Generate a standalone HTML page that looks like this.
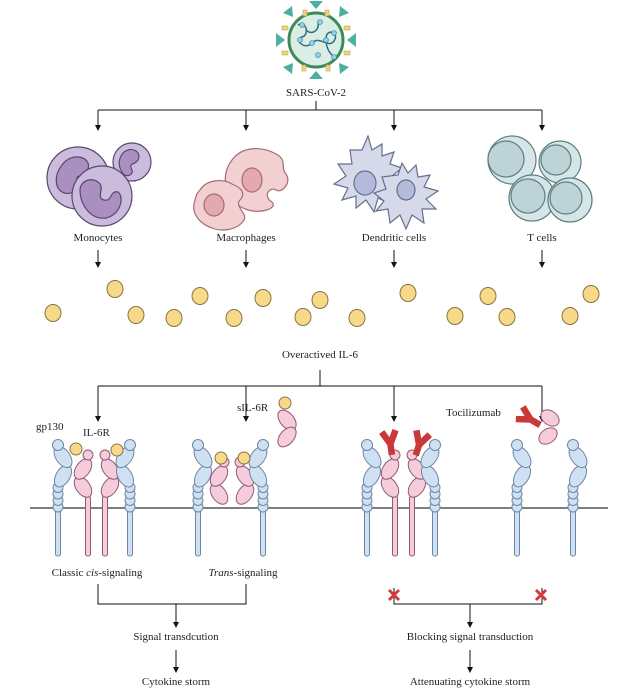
<!DOCTYPE html>
<html><head><meta charset="utf-8"><style>
html,body{margin:0;padding:0;background:#fff;}
svg{display:block;}
text{font-family:"Liberation Serif",serif;font-size:11px;fill:#222;}
</style></head><body>
<svg width="639" height="696" viewBox="0 0 639 696" xmlns="http://www.w3.org/2000/svg">
<defs>
<marker id="ah" markerWidth="6" markerHeight="6" refX="5" refY="3" orient="auto" markerUnits="userSpaceOnUse"><path d="M0,0 L6,3 L0,6 z" fill="#111"/></marker>
<g id="gp">
 <rect x="-2.5" y="2" width="5" height="46" rx="2" fill="#cfe0f3" stroke="#6d86a3" stroke-width="1"/>
 <circle cx="0" cy="-1" r="5" fill="#cfe0f3" stroke="#6d86a3"/>
 <circle cx="0" cy="-7.5" r="5" fill="#cfe0f3" stroke="#6d86a3"/>
 <circle cx="0" cy="-14" r="5" fill="#cfe0f3" stroke="#6d86a3"/>
 <circle cx="0" cy="-20.5" r="5" fill="#cfe0f3" stroke="#6d86a3"/>
 <ellipse cx="5" cy="-32" rx="7" ry="12" transform="rotate(30 5 -32)" fill="#cfe0f3" stroke="#6d86a3"/>
 <ellipse cx="5" cy="-51" rx="7" ry="12" transform="rotate(-35 5 -51)" fill="#cfe0f3" stroke="#6d86a3"/>
 <circle cx="0" cy="-63" r="5.5" fill="#cfe0f3" stroke="#6d86a3"/>
</g>
<g id="r6">
 <ellipse cx="-5" cy="-21" rx="7" ry="11.5" transform="rotate(-35 -5 -21)" fill="#f6cbdc" stroke="#8f5b70"/>
 <ellipse cx="-5" cy="-39" rx="7" ry="11.5" transform="rotate(35 -5 -39)" fill="#f6cbdc" stroke="#8f5b70"/>
 <circle cx="0" cy="-53" r="5" fill="#f6cbdc" stroke="#8f5b70"/>
</g>
<g id="r6s">
 <rect x="-2.5" y="-12" width="5" height="60" rx="2" fill="#f6cbdc" stroke="#8f5b70"/>
 <use href="#r6"/>
</g>
<g id="ab">
 <path d="M0,14 L0,1 M0,3 L-7,-10 M0,3 L7,-10" stroke="#c9393a" stroke-width="6.5" fill="none" stroke-linejoin="round"/>
</g>
<g id="x"><path d="M-5,-5 L5,5 M5,-5 L-5,5" stroke="#d23c3c" stroke-width="3"/></g>
</defs>

<!-- virus -->
<circle cx="316" cy="40" r="27" fill="#dbeee6" stroke="#3f8a5a" stroke-width="3"/>
<g fill="#4ab0a0">
 <polygon points="316,9 309,1 323,1"/>
 <polygon points="339,17 340,6 349,13"/>
 <polygon points="347,40 356,33 356,47"/>
 <polygon points="339,63 349,67 340,74"/>
 <polygon points="316,71 309,79 323,79"/>
 <polygon points="293,63 292,74 283,67"/>
 <polygon points="285,40 276,33 276,47"/>
 <polygon points="293,17 283,13 292,6"/>
</g>
<g fill="#efd27a" stroke="#b89a40" stroke-width="0.5">
 <rect x="325" y="10" width="4" height="6"/><rect x="344" y="26" width="6" height="4"/><rect x="344" y="51" width="6" height="4"/>
 <rect x="326" y="65" width="4" height="6"/><rect x="302" y="65" width="4" height="6"/><rect x="282" y="51" width="6" height="4"/>
 <rect x="282" y="26" width="6" height="4"/><rect x="303" y="10" width="4" height="6"/>
</g>
<path d="M298,25 c8,-5 12,10 4,12 c-8,2 2,14 10,6 c8,-8 16,6 22,-2 c6,-8 -8,-14 -8,-2 c0,12 6,16 10,20 M306,30 c6,6 14,0 12,-8" fill="none" stroke="#2f6f78" stroke-width="1.5"/>
<g fill="#8fd0e8" stroke="#3a7f98" stroke-width="0.6">
 <circle cx="302" cy="25" r="2.5"/><circle cx="312" cy="43" r="2.5"/><circle cx="326" cy="40" r="2.5"/><circle cx="334" cy="33" r="2.5"/><circle cx="320" cy="22" r="2.5"/><circle cx="334" cy="57" r="2.5"/><circle cx="300" cy="40" r="2.5"/><circle cx="318" cy="55" r="2.5"/>
</g>
<text x="316" y="96" text-anchor="middle">SARS-CoV-2</text>

<!-- top tree -->
<g stroke="#111" stroke-width="1" fill="none">
 <line x1="316" y1="101" x2="316" y2="110"/>
 <line x1="98" y1="110" x2="542" y2="110"/>
 <line x1="98" y1="110" x2="98" y2="130" marker-end="url(#ah)"/>
 <line x1="246" y1="110" x2="246" y2="130" marker-end="url(#ah)"/>
 <line x1="394" y1="110" x2="394" y2="130" marker-end="url(#ah)"/>
 <line x1="542" y1="110" x2="542" y2="130" marker-end="url(#ah)"/>
</g>

<!-- monocytes -->
<g stroke="#5a4670" stroke-width="1.2">
 <circle cx="78" cy="178" r="31" fill="#cbbcdc"/>
 <path d="M62,165 c10,-14 30,-8 26,4 c-4,10 -14,4 -10,12 c4,8 -6,14 -14,12 c-10,-4 -10,-18 -2,-28z" fill="#a990c0"/>
 <circle cx="132" cy="162" r="19" fill="#cbbcdc"/>
 <path d="M124,152 c8,-6 18,0 14,8 c-4,6 -10,2 -6,10 c2,6 -8,8 -10,2 c-4,-6 -4,-14 2,-20z" fill="#a990c0"/>
 <circle cx="102" cy="196" r="30" fill="#cbbcdc"/>
 <path d="M80,190 c0,-10 14,-14 20,-6 c4,6 -4,14 4,16 c8,2 6,-10 14,-8 c6,4 4,22 -12,26 c-16,2 -26,-14 -26,-28z" fill="#a990c0"/>
</g>
<!-- macrophages -->
<g stroke="#a86a76" stroke-width="1.2" fill="#f2d0d2">
 <path d="M232,160 c10,-14 30,-14 44,-6 c12,6 4,14 10,20 c6,8 -4,20 -10,16 c-6,-4 -14,6 -4,12 c6,6 -10,12 -24,8 c-12,-4 -20,-12 -22,-22 c-2,-12 0,-20 6,-28z"/>
 <ellipse cx="252" cy="180" rx="10" ry="12" fill="#e3a8b0"/>
 <path d="M200,190 c6,-10 22,-12 32,-6 c10,4 14,10 8,16 c-6,6 8,14 4,20 c-6,10 -22,12 -32,8 c-12,-4 -20,-14 -18,-24 c2,-8 2,-10 6,-14z"/>
 <ellipse cx="214" cy="205" rx="10" ry="11" fill="#e3a8b0"/>
</g>
<!-- dendritic -->
<g stroke="#66708e" stroke-width="1.2" fill="#d5d9ea">
 <path d="M362,150 l6,-14 l4,14 l10,-6 l0,12 l12,-4 l-4,12 l12,4 l-10,8 l8,12 l-12,2 l2,14 l-12,-6 l-4,14 l-8,-12 l-10,8 l0,-12 l-14,4 l6,-12 l-14,-4 l12,-8 l-8,-12 l14,0 l-2,-14 z"/>
 <ellipse cx="365" cy="183" rx="11" ry="12" fill="#b4badb"/>
 <path d="M398,175 l4,-12 l6,10 l8,-8 l2,12 l12,-2 l-6,12 l14,4 l-12,8 l10,10 l-14,0 l2,14 l-12,-8 l-6,14 l-6,-14 l-10,8 l-2,-14 l-12,2 l8,-10 l-10,-8 l12,-4 l-4,-12 z"/>
 <ellipse cx="406" cy="190" rx="9" ry="10" fill="#b4badb"/>
</g>
<!-- T cells -->
<g stroke="#5e7e7e" stroke-width="1.2">
 <circle cx="512" cy="160" r="24" fill="#d4e6e8"/><circle cx="506" cy="159" r="18" fill="#bdd3d8"/>
 <circle cx="560" cy="162" r="21" fill="#d4e6e8"/><circle cx="556" cy="160" r="15" fill="#bdd3d8"/>
 <circle cx="532" cy="198" r="23" fill="#d4e6e8"/><circle cx="528" cy="196" r="17" fill="#bdd3d8"/>
 <circle cx="570" cy="200" r="22" fill="#d4e6e8"/><circle cx="566" cy="198" r="16" fill="#bdd3d8"/>
</g>
<text x="98" y="241" text-anchor="middle">Monocytes</text>
<text x="246" y="241" text-anchor="middle">Macrophages</text>
<text x="394" y="241" text-anchor="middle">Dendritic cells</text>
<text x="542" y="241" text-anchor="middle">T cells</text>

<g stroke="#111" stroke-width="1">
 <line x1="98" y1="250" x2="98" y2="267" marker-end="url(#ah)"/>
 <line x1="246" y1="250" x2="246" y2="267" marker-end="url(#ah)"/>
 <line x1="394" y1="250" x2="394" y2="267" marker-end="url(#ah)"/>
 <line x1="542" y1="250" x2="542" y2="267" marker-end="url(#ah)"/>
</g>
<g fill="#f7d98a" stroke="#8a7440" stroke-width="1">
 <ellipse cx="53" cy="313" rx="8" ry="8.5"/><ellipse cx="115" cy="289" rx="8" ry="8.5"/><ellipse cx="136" cy="315" rx="8" ry="8.5"/>
 <ellipse cx="174" cy="318" rx="8" ry="8.5"/><ellipse cx="200" cy="296" rx="8" ry="8.5"/><ellipse cx="234" cy="318" rx="8" ry="8.5"/>
 <ellipse cx="263" cy="298" rx="8" ry="8.5"/><ellipse cx="303" cy="317" rx="8" ry="8.5"/><ellipse cx="320" cy="300" rx="8" ry="8.5"/>
 <ellipse cx="357" cy="318" rx="8" ry="8.5"/><ellipse cx="408" cy="293" rx="8" ry="8.5"/><ellipse cx="455" cy="316" rx="8" ry="8.5"/>
 <ellipse cx="488" cy="296" rx="8" ry="8.5"/><ellipse cx="507" cy="317" rx="8" ry="8.5"/><ellipse cx="570" cy="316" rx="8" ry="8.5"/>
 <ellipse cx="591" cy="294" rx="8" ry="8.5"/>
</g>
<text x="320" y="358" text-anchor="middle">Overactived IL-6</text>
<g stroke="#111" stroke-width="1" fill="none">
 <line x1="320" y1="370" x2="320" y2="386"/>
 <line x1="98" y1="386" x2="542" y2="386"/>
 <line x1="98" y1="386" x2="98" y2="421" marker-end="url(#ah)"/>
 <line x1="246" y1="386" x2="246" y2="421" marker-end="url(#ah)"/>
 <line x1="394" y1="386" x2="394" y2="421" marker-end="url(#ah)"/>
 <line x1="542" y1="386" x2="542" y2="421" marker-end="url(#ah)"/>
</g>

<!-- membrane -->
<line x1="30" y1="508" x2="608" y2="508" stroke="#333" stroke-width="1.3"/>

<!-- classic cis -->
<use href="#gp" transform="translate(58,508)"/>
<use href="#r6s" transform="translate(88,508)"/>
<use href="#r6s" transform="translate(105,508) scale(-1,1)"/>
<use href="#gp" transform="translate(130,508) scale(-1,1)"/>
<g fill="#f7d98a" stroke="#8a7440"><circle cx="76" cy="449" r="6"/><circle cx="117" cy="450" r="6"/></g>
<text x="36" y="430">gp130</text>
<text x="83" y="436">IL-6R</text>

<!-- trans -->
<use href="#gp" transform="translate(198,508)"/>
<use href="#r6" transform="translate(224,515)"/>
<use href="#r6" transform="translate(240,515) scale(-1,1)"/>
<use href="#gp" transform="translate(263,508) scale(-1,1)"/>
<g fill="#f7d98a" stroke="#8a7440"><circle cx="221" cy="458" r="6"/><circle cx="244" cy="458" r="6"/></g>
<g fill="#f6cbdc" stroke="#8f5b70">
 <ellipse cx="287" cy="420" rx="7" ry="11.5" transform="rotate(-40 287 420)"/>
 <ellipse cx="287" cy="437" rx="7" ry="11.5" transform="rotate(40 287 437)"/>
</g>
<circle cx="285" cy="403" r="6" fill="#f7d98a" stroke="#8a7440"/>
<text x="237" y="411">sIL-6R</text>

<!-- blocked -->
<use href="#gp" transform="translate(367,508)"/>
<use href="#r6s" transform="translate(395,508)"/>
<use href="#r6s" transform="translate(412,508) scale(-1,1)"/>
<use href="#gp" transform="translate(435,508) scale(-1,1)"/>
<use href="#ab" transform="translate(390,441) rotate(-8)"/>
<use href="#ab" transform="translate(420,442) rotate(18)"/>

<use href="#gp" transform="translate(517,508)"/>
<use href="#gp" transform="translate(573,508)"/>
<g fill="#f6cbdc" stroke="#8f5b70">
 <ellipse cx="550" cy="418" rx="10" ry="7" transform="rotate(35 550 418)"/>
 <ellipse cx="548" cy="436" rx="10" ry="7" transform="rotate(-35 548 436)"/>
</g>
<use href="#ab" transform="translate(528,418) rotate(-60)"/>
<text x="446" y="416">Tocilizumab</text>

<!-- bottom -->
<text x="97" y="576" text-anchor="middle">Classic <tspan font-style="italic">cis</tspan>-signaling</text>
<text x="243" y="576" text-anchor="middle"><tspan font-style="italic">Trans</tspan>-signaling</text>
<g stroke="#111" stroke-width="1" fill="none">
 <polyline points="98,584 98,604 246,604 246,584"/>
 <line x1="176" y1="604" x2="176" y2="627" marker-end="url(#ah)"/>
 <line x1="176" y1="650" x2="176" y2="672" marker-end="url(#ah)"/>
 <polyline points="394,588 394,604 542,604 542,588"/>
 <line x1="470" y1="604" x2="470" y2="627" marker-end="url(#ah)"/>
 <line x1="470" y1="650" x2="470" y2="672" marker-end="url(#ah)"/>
</g>
<use href="#x" transform="translate(394,595)"/>
<use href="#x" transform="translate(541,595)"/>
<text x="176" y="640" text-anchor="middle">Signal transdcution</text>
<text x="176" y="685" text-anchor="middle">Cytokine storm</text>
<text x="470" y="640" text-anchor="middle">Blocking signal transduction</text>
<text x="470" y="685" text-anchor="middle">Attenuating cytokine storm</text>
</svg>
</body></html>
